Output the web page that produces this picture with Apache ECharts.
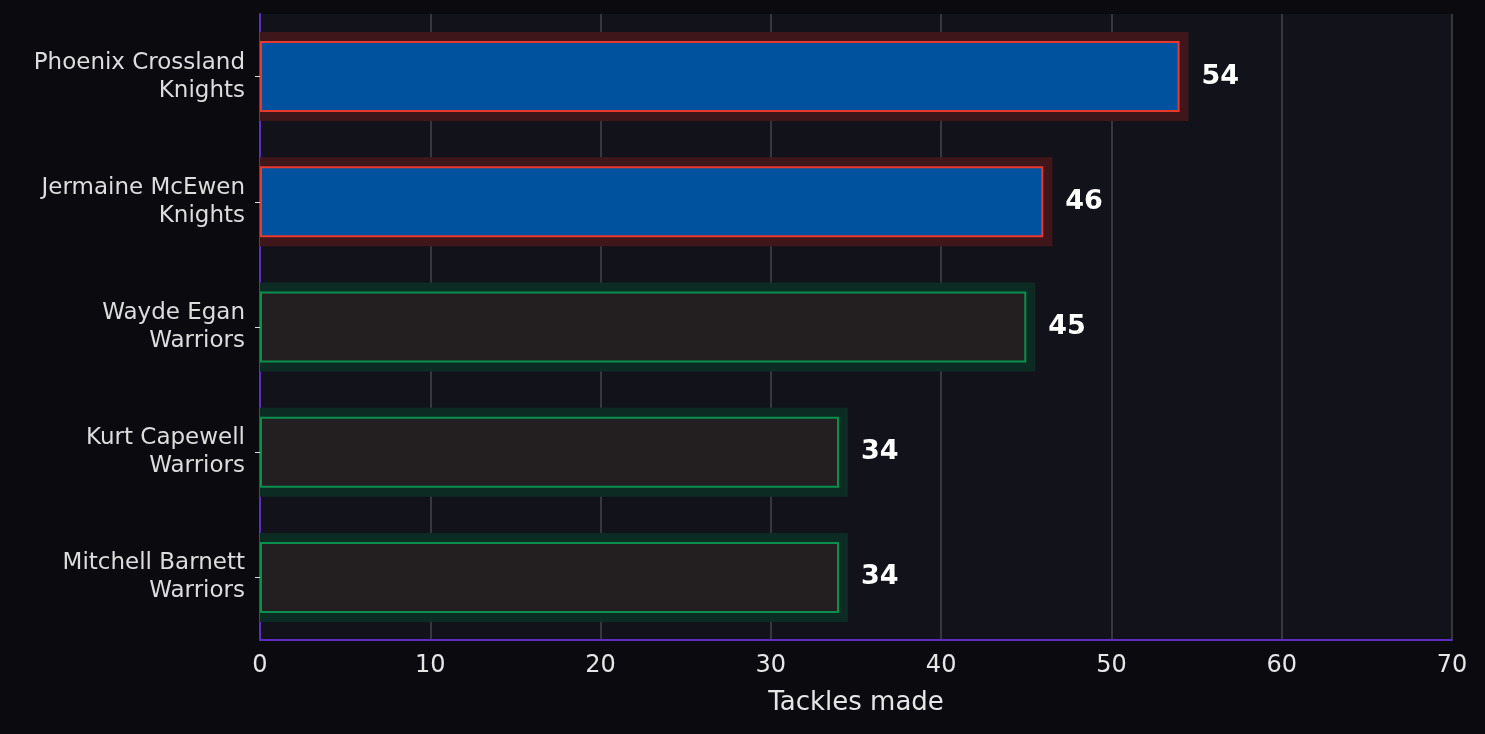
<!DOCTYPE html>
<html><head><meta charset="utf-8">
<script src="https://cdn.jsdelivr.net/npm/echarts@6/dist/echarts.min.js"></script>
<style>html,body{margin:0;background:#0b0b0f}#c{width:1485px;height:734px}</style>
</head><body><div id="c"></div>
<script>
const players = ['Phoenix Crossland','Jermaine McEwen','Wayde Egan','Kurt Capewell','Mitchell Barnett'];
const teams = ['Knights','Knights','Warriors','Warriors','Warriors'];
const tackles = [54,46,45,34,34];
const teamStyle = {
  Knights:{fill:'#00529f',border:'#e8392c',halo:'#3f171b'},
  Warriors:{fill:'#231f20',border:'#0a8f4f',halo:'#0c2b22'}
};
const cats = players.map((p,i)=>p+'\n'+teams[i]);
const chart = echarts.init(document.getElementById('c'));
chart.setOption({
  backgroundColor:'#0b0b0f',
  animation:false,
  grid:{left:260,right:33,top:14,bottom:94,backgroundColor:'#12131a',show:true,borderWidth:0},
  xAxis:{type:'value',min:0,max:70,interval:10,
    name:'Tackles made',nameLocation:'middle',nameGap:50,
    nameTextStyle:{color:'#e6e6e6',fontSize:26,fontFamily:'DejaVu Sans'},
    axisLabel:{color:'#e6e6e6',fontSize:24,fontFamily:'DejaVu Sans',margin:14},
    axisLine:{show:true,lineStyle:{color:'#5b2dc0',width:2}},
    axisTick:{show:false},
    splitLine:{lineStyle:{color:'#45464c',width:1.5}}},
  yAxis:{type:'category',data:cats,inverse:true,
    axisLabel:{color:'#dddddd',fontSize:23,fontFamily:'DejaVu Sans',align:'right',margin:15,lineHeight:28},
    axisLine:{show:true,lineStyle:{color:'#5b2dc0',width:2}},
    axisTick:{show:true,alignWithLabel:true,length:5,lineStyle:{color:'#dddddd'}}},
  series:[
    {type:'custom',z:1,silent:true,
     data:tackles.map((v,i)=>[v,i]),
     encode:{x:0,y:1},
     renderItem:function(params,api){
       const end=api.coord([api.value(0),api.value(1)]);
       const start=api.coord([0,api.value(1)]);
       const c=teamStyle[teams[params.dataIndex]].halo;
       return {type:'rect',shape:{x:start[0],y:end[1]-44.5,width:end[0]-start[0]+9,height:89},style:{fill:c}};
     }},
    {type:'bar',barWidth:71,z:2,
     data:tackles.map((v,i)=>({value:v,itemStyle:{color:teamStyle[teams[i]].fill,borderColor:teamStyle[teams[i]].border,borderWidth:2}})),
     label:{show:true,position:'right',distance:22,color:'#ffffff',fontSize:27,fontWeight:'bold',fontFamily:'DejaVu Sans'}}
  ]
});
</script></body></html>
